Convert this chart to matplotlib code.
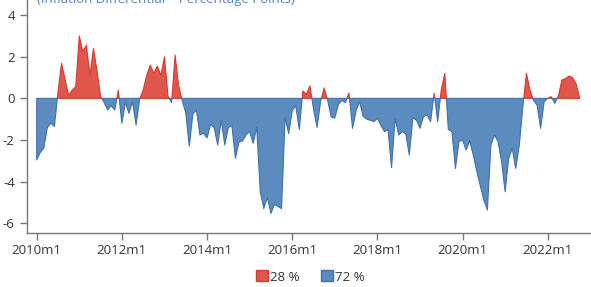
import numpy as np
import matplotlib
matplotlib.use("Agg")
import matplotlib.pyplot as plt
from matplotlib.patches import Patch

plt.rcParams["font.family"] = ["Open Sans", "DejaVu Sans"]
plt.rcParams["axes.unicode_minus"] = False

# monthly inflation differential, 2010m1 .. 2022m10
diff = [
    -2.96, -2.6, -2.4, -1.4, -1.2, -1.35, 0.3, 1.68, 0.9, 0.15,
    0.4, 0.55, 3.0, 2.25, 2.55, 1.1, 2.4, 1.3, 0.1, -0.2,
    -0.56, -0.35, -0.56, 0.4, -1.2, -0.2, -0.72, -0.16, -1.28, -0.05,
    0.4, 1.1, 1.6, 1.2, 1.55, 1.1, 2.0, 0.1, -0.2, 2.08,
    0.6, -0.1, -0.7, -2.3, -0.75, -0.56, -1.76, -1.68, -1.9, -1.25,
    -1.4, -2.24, -1.05, -2.24, -1.4, -1.3, -2.88, -2.1, -2.05, -1.76,
    -1.6, -2.16, -1.4, -4.5, -5.3, -4.76, -5.53, -5.1, -5.2, -5.3,
    -0.9, -1.7, -0.6, -0.35, -1.5, 0.35, 0.2, 0.6, -0.5, -1.4,
    -0.16, 0.5, -0.1, -0.9, -0.95, -0.3, -0.1, -0.2, 0.25, -1.44,
    -0.6, -0.16, -0.88, -1.0, -1.05, -1.12, -0.96, -1.3, -1.6, -1.52,
    -3.33, -0.96, -1.76, -1.6, -1.7, -2.72, -0.96, -1.04, -1.44, -0.88,
    -0.8, -1.12, 0.24, -1.12, 0.4, 1.2, -1.5, -1.6, -3.37, -2.08,
    -2.0, -2.48, -2.05, -2.7, -3.5, -4.2, -4.9, -5.37, -2.24, -1.76,
    -2.08, -3.04, -4.49, -2.9, -2.4, -3.37, -2.24, -0.4, 1.2, 0.4,
    -0.1, -0.32, -1.44, -0.16, 0.0, 0.08, -0.24, 0.1, 0.88, 0.95,
    1.07, 1.0, 0.7, 0.02,
]
tick_months = [0, 24, 48, 72, 96, 120, 144]
tick_labels = ["2010m1", "2012m1", "2014m1", "2016m1", "2018m1", "2020m1", "2022m1"]
legend_labels = ["28 %", "72 %"]
title = "(Inflation Differential \u2013 Percentage Points)"

red_fill, red_edge = "#e0564a", "#d83a2f"
blue_fill, blue_edge = "#5b8bbf", "#3d72ae"

y = np.array(diff)
x = np.arange(len(y))

fig = plt.figure(figsize=(5.91, 2.87), dpi=100)
ax = fig.add_axes([27.3 / 591, 1 - 232.7 / 287, (591 - 27.3) / 591, 232.7 / 287])

ax.fill_between(x, y, 0, where=y >= 0, interpolate=True,
                facecolor=red_fill, edgecolor=red_edge, linewidth=0.8)
ax.fill_between(x, y, 0, where=y <= 0, interpolate=True,
                facecolor=blue_fill, edgecolor=blue_edge, linewidth=0.8)

ax.set_xlim(-2.65, 156.2)
ax.set_ylim(-6.46, 4.73)
ax.set_yticks([-6, -4, -2, 0, 2, 4])
ax.set_xticks(tick_months)
ax.set_xticklabels(tick_labels)

for s in ["top", "right"]:
    ax.spines[s].set_visible(False)
for s in ["left", "bottom"]:
    ax.spines[s].set_color("#777777")
    ax.spines[s].set_linewidth(1.0)
ax.tick_params(axis="both", colors="#777777", labelcolor="#333333",
               labelsize=9.5, length=5, width=1.0)
ax.tick_params(axis="y", pad=4)
ax.tick_params(axis="x", pad=3)

fig.text(0.28, 1 - 3 / 287, title, color="#4f82c2", fontsize=9.5,
         ha="center", va="baseline")

handles = [Patch(facecolor=red_fill, edgecolor=red_edge),
           Patch(facecolor=blue_fill, edgecolor=blue_edge)]
fig.legend(handles, legend_labels, loc="center", bbox_to_anchor=(0.525, 1 - 277 / 287),
           ncol=2, frameon=False, fontsize=9.5, handlelength=0.9, handleheight=0.9,
           handletextpad=0.15, columnspacing=1.6, labelcolor="#333333")

fig.savefig("out.png", dpi=100)
